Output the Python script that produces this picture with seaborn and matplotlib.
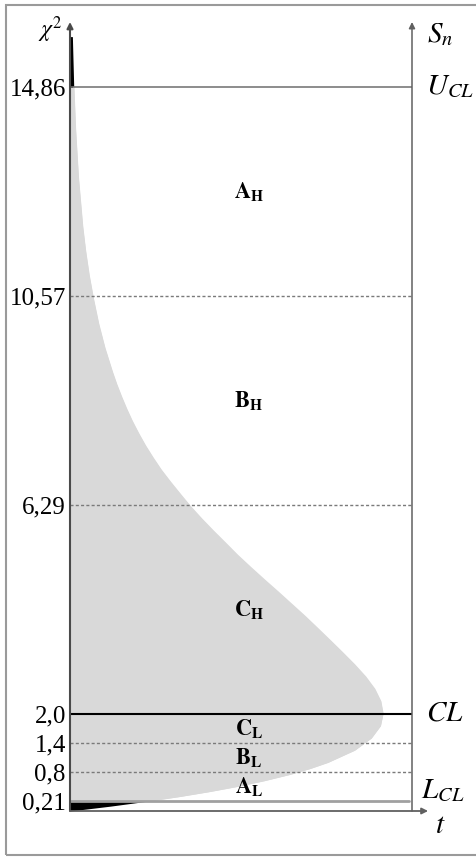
import matplotlib
matplotlib.use("Agg")
import matplotlib.pyplot as plt
from matplotlib.patches import Rectangle
import pandas as pd
import seaborn as sns

# Control limits and zone borders on the chi-square scale
levels = [14.86, 10.57, 6.29, 2.0, 1.4, 0.8, 0.21]
level_labels = ["14,86", "10,57", "6,29", "2,0", "1,4", "0,8", "0,21"]

# Named limits shown on the right-hand S_n axis
limit_values = [14.86, 2.0, 0.21]
limit_names = [r"$U_{CL}$", r"$CL$", r"$L_{CL}$"]

# Zones between consecutive borders (top to bottom)
zone_letters = ["A", "B", "C", "C", "B", "A"]
zone_sides = ["H", "H", "H", "L", "L", "L"]

# Density profile of the statistic along the chi-square axis
chi2_grid = [0.0, 0.1, 0.21, 0.3, 0.4, 0.5, 0.625, 0.75, 0.875, 1.0, 1.25,
             1.5, 1.75, 2.0, 2.25, 2.5, 2.75, 3.0, 3.25, 3.5, 3.75, 4.0,
             4.25, 4.5, 4.75, 5.0, 5.25, 5.5, 5.75, 6.0, 6.25, 6.5, 6.75,
             7.0, 7.25, 7.5, 7.75, 8.0, 8.25, 8.5, 8.75, 9.0, 9.5, 10.0,
             10.5, 11.0, 11.5, 12.0, 13.0, 14.0, 14.86, 15.5, 15.9]
density = [0.0, 0.0238, 0.0473, 0.0646, 0.0819, 0.0974, 0.1143, 0.1289,
           0.1412, 0.1516, 0.1673, 0.1771, 0.1824, 0.1839, 0.1826, 0.1791,
           0.1738, 0.1673, 0.1602, 0.1529, 0.1455, 0.1380, 0.1301, 0.1222,
           0.1141, 0.1062, 0.0985, 0.0914, 0.0842, 0.0773, 0.0708, 0.0649,
           0.0591, 0.0536, 0.0488, 0.0443, 0.0403, 0.0366, 0.0333, 0.0303,
           0.0275, 0.0250, 0.0205, 0.0168, 0.0138, 0.0112, 0.0091, 0.0074,
           0.0049, 0.0032, 0.0022, 0.0017, 0.0014]

profile = pd.DataFrame({"chi2": chi2_grid, "density": density})

sns.set_theme(style="white")
plt.rcParams["mathtext.fontset"] = "stix"
plt.rcParams["font.family"] = ["Liberation Serif", "DejaVu Sans"]

W, H = 476, 857
fig = plt.figure(figsize=(W / 100, H / 100), dpi=100)
ax = fig.add_axes([70 / W, 46 / H, 342 / W, 789 / H])

lcl, ucl = min(limit_values), max(limit_values)
inside = profile["chi2"].between(lcl, ucl)
lower_tail = profile["chi2"] <= lcl
upper_tail = profile["chi2"] >= ucl

# shaded profile between the control limits, black tails outside
ax.fill_betweenx(profile["chi2"], 0, profile["density"], where=inside,
                 color="#d9d9d9", lw=0)
sns.lineplot(data=profile[inside], x="density", y="chi2", orient="y",
             color="#d9d9d9", lw=1, ax=ax, legend=False)
ax.fill_betweenx(profile["chi2"], 0, profile["density"], where=lower_tail,
                 color="black", lw=0)
ax.fill_betweenx(profile["chi2"], 0, profile["density"], where=upper_tail,
                 color="black", lw=0)

ax.set_xlim(0, 0.201)
ax.set_ylim(0, 16.2)
ax.set_xlabel("")
ax.set_ylabel("")
for s in ax.spines.values():
    s.set_visible(False)

# horizontal limit and zone lines
for lv in levels:
    if lv == ucl:
        ax.axhline(lv, color="#6e6e6e", lw=1.1)
    elif lv == lcl:
        ax.axhline(lv, color="#a0a0a0", lw=2.0, xmax=0.99)
    elif lv in limit_values:
        ax.axhline(lv, color="black", lw=1.5)
    else:
        ax.axhline(lv, color="#7a7a7a", lw=1.0, ls=(0, (2.2, 1.6)))

# axes drawn as arrows
arrow = dict(arrowstyle="-|>", mutation_scale=9, shrinkA=0, shrinkB=0)
ax.annotate("", xy=(0, 1), xytext=(0, 0), xycoords="axes fraction",
            arrowprops=dict(arrow, color="#4a4a4a", lw=1.5),
            annotation_clip=False)
ax.annotate("", xy=(1, 1), xytext=(1, 0), xycoords="axes fraction",
            arrowprops=dict(arrow, color="#606060", lw=1.1),
            annotation_clip=False)
ax.annotate("", xy=(1.047, 0), xytext=(0, 0), xycoords="axes fraction",
            arrowprops=dict(arrow, color="#606060", lw=1.3),
            annotation_clip=False)

# left tick labels
ax.set_xticks([])
ax.set_yticks(levels)
ax.set_yticklabels(level_labels, fontsize=18, color="black")
ax.tick_params(axis="y", length=0, pad=3)

tr = ax.get_yaxis_transform()
ax.text(-0.022, 16.05, r"$\chi^2$", transform=tr, ha="right", va="center",
        fontsize=17, color="black")
ax.text(1.044, 15.95, r"$S_n$", transform=tr, ha="left", va="center",
        fontsize=21, color="black")

# right-hand limit names
for val, name in zip(limit_values, limit_names):
    if val == lcl:
        ax.text(1.026, val + 0.05, name, transform=tr, ha="left",
                va="baseline", fontsize=21, color="black")
    else:
        ax.text(1.040, val, name, transform=tr, ha="left", va="center",
                fontsize=21, color="black")
ax.text(1.082, -0.3, r"$t$", transform=tr, ha="center", va="center",
        fontsize=21, color="black")

# zone names centred between borders
for i, (letter, side) in enumerate(zip(zone_letters, zone_sides)):
    mid = (levels[i] + levels[i + 1]) / 2
    ax.text(0.523, mid, rf"$\mathbf{{{letter}}}_{{\mathbf{{{side}}}}}$",
            transform=tr, ha="center", va="center", fontsize=16,
            color="black")

# outer frame
fig.add_artist(Rectangle((6 / W, 2 / H), 1.0, 1 - 7 / H,
                         transform=fig.transFigure, fill=False,
                         edgecolor="#9a9a9a", lw=1.5))

fig.savefig("out.png", dpi=100)
